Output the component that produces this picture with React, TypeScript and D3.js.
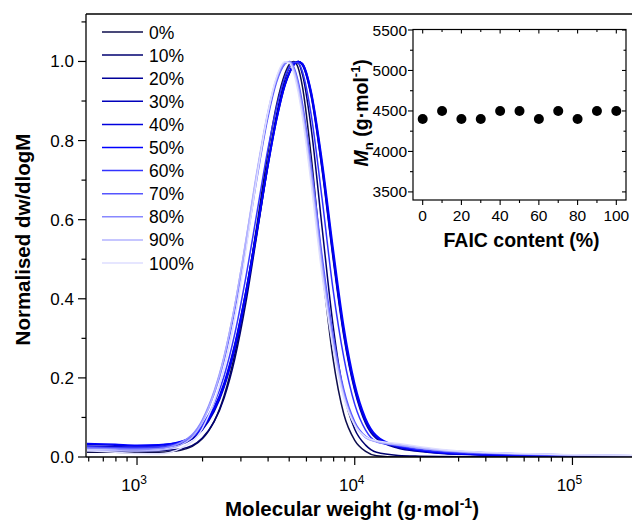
import React from 'react';
import * as d3 from 'd3';

// log10 of molecular weight (g/mol) sample grid
const logMW = [2.77, 2.9, 3.0, 3.1, 3.2, 3.3, 3.4, 3.45, 3.5, 3.55, 3.6, 3.64, 3.68, 3.7, 3.72, 3.74, 3.76, 3.8, 3.85, 3.9, 3.95, 4.0, 4.05, 4.1, 4.2, 4.3, 4.4, 4.6, 4.8, 5.0, 5.3];

const seriesLabels = ['0%', '10%', '20%', '30%', '40%', '50%', '60%', '70%', '80%', '90%', '100%'];

const y0 = [0.012, 0.012, 0.011, 0.012, 0.017, 0.046, 0.155, 0.262, 0.409, 0.584, 0.765, 0.888, 0.970, 0.993, 1.000, 0.984, 0.936, 0.760, 0.482, 0.250, 0.108, 0.042, 0.014, 0.003, 0, 0, 0, 0, 0, 0, 0];
const y10 = [0.016, 0.015, 0.015, 0.016, 0.020, 0.048, 0.149, 0.250, 0.390, 0.560, 0.735, 0.863, 0.956, 0.985, 0.998, 0.996, 0.967, 0.831, 0.580, 0.335, 0.160, 0.070, 0.030, 0.012, 0.004, 0.002, 0.001, 0, 0, 0, 0];
const y20 = [0.024, 0.022, 0.022, 0.024, 0.032, 0.070, 0.182, 0.284, 0.418, 0.575, 0.739, 0.855, 0.944, 0.973, 0.993, 1.000, 0.991, 0.912, 0.726, 0.504, 0.305, 0.168, 0.085, 0.046, 0.022, 0.014, 0.009, 0.005, 0.003, 0.002, 0.001];
const y30 = [0.028, 0.026, 0.025, 0.027, 0.034, 0.068, 0.176, 0.275, 0.408, 0.565, 0.731, 0.849, 0.940, 0.970, 0.991, 1.000, 0.994, 0.921, 0.740, 0.518, 0.316, 0.176, 0.092, 0.050, 0.025, 0.016, 0.010, 0.006, 0.004, 0.002, 0.001];
const y40 = [0.032, 0.030, 0.028, 0.030, 0.038, 0.076, 0.188, 0.288, 0.420, 0.577, 0.740, 0.856, 0.944, 0.973, 0.993, 1.000, 0.991, 0.914, 0.730, 0.510, 0.310, 0.172, 0.090, 0.050, 0.026, 0.016, 0.010, 0.006, 0.004, 0.003, 0.001];
const y50 = [0.034, 0.032, 0.030, 0.031, 0.039, 0.074, 0.180, 0.278, 0.410, 0.567, 0.732, 0.850, 0.941, 0.971, 0.991, 1.000, 0.995, 0.925, 0.750, 0.532, 0.330, 0.186, 0.098, 0.054, 0.027, 0.017, 0.011, 0.006, 0.004, 0.003, 0.001];
const y60 = [0.026, 0.024, 0.024, 0.026, 0.037, 0.080, 0.205, 0.314, 0.455, 0.615, 0.775, 0.882, 0.962, 0.986, 0.998, 0.997, 0.974, 0.865, 0.653, 0.425, 0.251, 0.133, 0.068, 0.039, 0.028, 0.019, 0.013, 0.008, 0.005, 0.003, 0.002];
const y70 = [0.024, 0.022, 0.021, 0.023, 0.035, 0.090, 0.245, 0.374, 0.532, 0.702, 0.855, 0.946, 0.994, 1.000, 0.986, 0.950, 0.893, 0.738, 0.508, 0.312, 0.170, 0.089, 0.052, 0.040, 0.031, 0.023, 0.017, 0.011, 0.007, 0.005, 0.003];
const y80 = [0.022, 0.020, 0.019, 0.021, 0.036, 0.094, 0.255, 0.386, 0.545, 0.715, 0.865, 0.952, 0.996, 0.999, 0.982, 0.942, 0.882, 0.722, 0.491, 0.298, 0.161, 0.084, 0.049, 0.038, 0.030, 0.022, 0.016, 0.010, 0.007, 0.005, 0.003];
const y90 = [0.018, 0.016, 0.015, 0.017, 0.030, 0.088, 0.252, 0.386, 0.548, 0.720, 0.870, 0.957, 0.998, 0.998, 0.978, 0.934, 0.870, 0.706, 0.474, 0.285, 0.154, 0.082, 0.050, 0.039, 0.031, 0.023, 0.017, 0.011, 0.008, 0.005, 0.003];
const y100 = [0.016, 0.012, 0.009, 0.008, 0.022, 0.072, 0.224, 0.353, 0.522, 0.705, 0.867, 0.959, 0.999, 0.996, 0.970, 0.923, 0.858, 0.690, 0.460, 0.277, 0.149, 0.080, 0.051, 0.041, 0.034, 0.026, 0.019, 0.012, 0.008, 0.006, 0.004];

const seriesValues = [y0, y10, y20, y30, y40, y50, y60, y70, y80, y90, y100];

const seriesColors = ['#0d0d4d', '#000070', '#000099', '#0000bb', '#0000dd', '#0000ff', '#3333ff', '#5555ff', '#8888ff', '#b3b3ff', '#dedeff'];

const yTickValues = [0, 0.2, 0.4, 0.6, 0.8, 1.0];
const yMinorValues = [0.1, 0.3, 0.5, 0.7, 0.9, 1.1];
const xMajorValues = [1000, 10000, 100000];
const xMajorExp = ['3', '4', '5'];

// inset data
const faicContent = [0, 10, 20, 30, 40, 50, 60, 70, 80, 90, 100];
const mnValues = [4400, 4500, 4400, 4400, 4500, 4500, 4400, 4500, 4400, 4500, 4500];
const insetYTicks = [3500, 4000, 4500, 5000, 5500];
const insetYMinor = [3750, 4250, 4750, 5250];
const insetXTicks = [0, 20, 40, 60, 80, 100];
const insetXMinor = [10, 30, 50, 70, 90];

const FONT = '"Liberation Sans", Arial, sans-serif';

export default function App() {
  const left = 86, top = 14, bottom = 457, right = 638;
  const x = d3.scaleLog().domain([583, 200000]).range([left, right]);
  const y = d3.scaleLinear().domain([0, 1.12]).range([bottom, top]);

  const line = d3
    .line<number>()
    .x((_, i) => x(Math.pow(10, logMW[i])))
    .y((d) => y(d))
    .curve(d3.curveMonotoneX);

  const xMinor: number[] = [];
  [100, 1000, 10000, 100000].forEach((dec) => {
    for (let k = 2; k <= 9; k++) {
      const v = dec * k;
      if (v >= 583 && v <= 200000) xMinor.push(v);
    }
  });

  // inset
  const iL = 413, iR = 626, iT = 29.5, iB = 200;
  const ix = d3.scaleLinear().domain([-5, 105]).range([iL, iR]);
  const iy = d3.scaleLinear().domain([3400, 5500]).range([iB, iT + 0.5]);

  const legendX0 = 102, legendX1 = 143, legendY0 = 32, legendStep = 23.1;

  return (
    <svg width={632} height={524} style={{ position: 'absolute', left: 0, top: 0, background: '#fff' }} fontFamily={FONT}>
      <rect x={0} y={0} width={632} height={524} fill="#fff" />
      <defs>
        <clipPath id="plotClip">
          <rect x={left} y={top} width={right - left} height={bottom - top} />
        </clipPath>
      </defs>

      {/* curves */}
      <g clipPath="url(#plotClip)">
        {seriesValues.map((vals, i) => (
          <path key={i} d={line(vals) || ''} fill="none" stroke={seriesColors[i]} strokeWidth={1.5} />
        ))}
      </g>

      {/* main frame */}
      <line x1={left} x2={left} y1={top} y2={bottom} stroke="#000" strokeWidth={1.3} />
      <line x1={left} x2={632} y1={bottom} y2={bottom} stroke="#000" strokeWidth={1.3} />
      <line x1={left} x2={632} y1={top} y2={top} stroke="#000" strokeWidth={1.3} />

      {/* y ticks */}
      {yTickValues.map((v) => (
        <g key={v}>
          <line x1={left - 8} x2={left} y1={y(v)} y2={y(v)} stroke="#000" strokeWidth={1.2} />
          <text x={left - 12} y={y(v) + 6} textAnchor="end" fontSize={17}>{v.toFixed(1)}</text>
        </g>
      ))}
      {yMinorValues.map((v) => (
        <line key={v} x1={left - 4.5} x2={left} y1={y(v)} y2={y(v)} stroke="#000" strokeWidth={1.2} />
      ))}

      {/* x ticks */}
      {xMajorValues.map((v, i) => (
        <g key={v}>
          <line x1={x(v)} x2={x(v)} y1={bottom} y2={bottom + 8} stroke="#000" strokeWidth={1.2} />
          <text x={x(v) - 3} y={bottom + 34} textAnchor="middle" fontSize={17}>
            10<tspan dy={-7} fontSize={12}>{xMajorExp[i]}</tspan>
          </text>
        </g>
      ))}
      {xMinor.map((v) => (
        <line key={v} x1={x(v)} x2={x(v)} y1={bottom} y2={bottom + 4.5} stroke="#000" strokeWidth={1.2} />
      ))}

      {/* axis titles */}
      <text x={352} y={516} textAnchor="middle" fontSize={20.5} fontWeight="bold">
        Molecular weight (g·mol<tspan dy={-8} fontSize={14}>-1</tspan><tspan dy={8}>)</tspan>
      </text>
      <text transform={`translate(30, ${(top + bottom) / 2 + 4}) rotate(-90)`} textAnchor="middle" fontSize={20.5} fontWeight="bold">
        Normalised dw/dlogM
      </text>

      {/* legend */}
      {seriesLabels.map((lab, i) => (
        <g key={lab}>
          <line x1={legendX0} x2={legendX1} y1={legendY0 + i * legendStep} y2={legendY0 + i * legendStep} stroke={seriesColors[i]} strokeWidth={1.5} />
          <text x={149} y={legendY0 + i * legendStep + 6.5} fontSize={17.5}>{lab}</text>
        </g>
      ))}

      {/* inset frame */}
      <rect x={iL} y={iT} width={iR - iL} height={iB - iT} fill="none" stroke="#000" strokeWidth={1.2} />
      {insetYTicks.map((v) => (
        <g key={v}>
          <line x1={iL - 5} x2={iL} y1={iy(v)} y2={iy(v)} stroke="#000" strokeWidth={1.1} />
          <line x1={iR - 4} x2={iR} y1={iy(v)} y2={iy(v)} stroke="#000" strokeWidth={1.1} />
          <text x={iL - 6} y={iy(v) + 5.5} textAnchor="end" fontSize={15.5}>{v}</text>
        </g>
      ))}
      {insetYMinor.map((v) => (
        <g key={v}>
          <line x1={iL - 3} x2={iL} y1={iy(v)} y2={iy(v)} stroke="#000" strokeWidth={1.1} />
          <line x1={iR - 2.5} x2={iR} y1={iy(v)} y2={iy(v)} stroke="#000" strokeWidth={1.1} />
        </g>
      ))}
      {insetXTicks.map((v) => (
        <g key={v}>
          <line x1={ix(v)} x2={ix(v)} y1={iB} y2={iB + 5} stroke="#000" strokeWidth={1.1} />
          <line x1={ix(v)} x2={ix(v)} y1={iT} y2={iT + 4} stroke="#000" strokeWidth={1.1} />
          <text x={ix(v)} y={iB + 21} textAnchor="middle" fontSize={15.5}>{v}</text>
        </g>
      ))}
      {insetXMinor.map((v) => (
        <g key={v}>
          <line x1={ix(v)} x2={ix(v)} y1={iB} y2={iB + 3} stroke="#000" strokeWidth={1.1} />
          <line x1={ix(v)} x2={ix(v)} y1={iT} y2={iT + 2.5} stroke="#000" strokeWidth={1.1} />
        </g>
      ))}
      {faicContent.map((c, i) => (
        <circle key={c} cx={ix(c)} cy={iy(mnValues[i])} r={5} fill="#000" />
      ))}
      <text x={(iL + iR) / 2 + 2} y={247} textAnchor="middle" fontSize={19.5} fontWeight="bold">FAIC content (%)</text>
      <text transform={`translate(368, ${(iT + iB) / 2 - 2}) rotate(-90)`} textAnchor="middle" fontSize={19.5} fontWeight="bold">
        <tspan fontStyle="italic">M</tspan><tspan dy={5} fontSize={13}>n</tspan><tspan dy={-5}> (g·mol</tspan><tspan dy={-8} fontSize={13}>-1</tspan><tspan dy={8}>)</tspan>
      </text>
    </svg>
  );
}
